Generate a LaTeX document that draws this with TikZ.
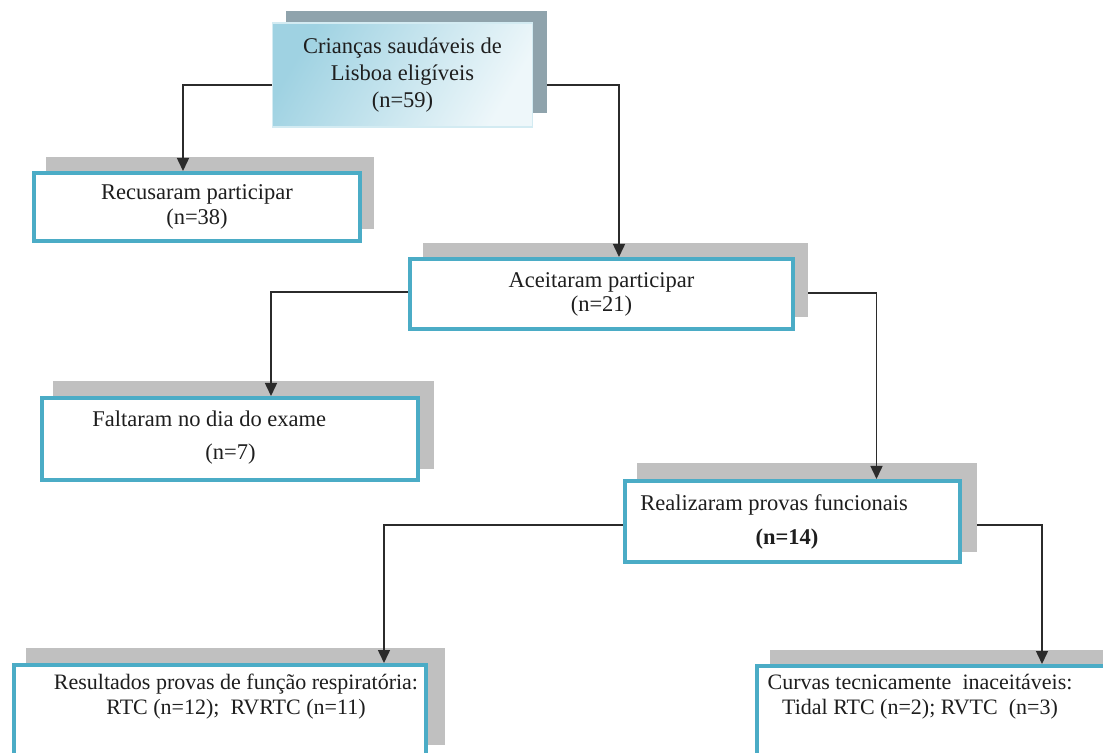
\documentclass[tikz,border=0pt]{standalone}
\usepackage{fontspec}
\setmainfont{Liberation Serif}
\usetikzlibrary{arrows.meta,calc}
\definecolor{boxteal}{HTML}{4BACC6}
\definecolor{shadowgray}{HTML}{C0C0C0}
\definecolor{topshadow}{HTML}{8FA3AC}
\definecolor{topdark}{HTML}{9FD2E2}
\definecolor{toplight}{HTML}{EEF7FA}
\definecolor{topborder}{HTML}{D3EBF2}
\definecolor{linegray}{HTML}{2B2B2B}
\definecolor{textcol}{HTML}{1E1E1E}
\begin{document}
\begin{tikzpicture}[x=0.5pt,y=-0.5pt,
  frontbox/.style={draw=boxteal, line width=2pt, fill=white, inner sep=0pt},
  shadowbox/.style={fill=shadowgray, draw=none, inner sep=0pt},
  conn/.style={draw=linegray, line width=0.75pt, -{Triangle[width=6pt,length=6.5pt]}},
  txt/.style={font=\fontsize{11.25}{13.5}\selectfont, text=textcol, align=center, inner sep=0pt},
  smalltxt/.style={font=\fontsize{11}{12.5}\selectfont, text=textcol, align=center, inner sep=0pt}]
\useasboundingbox (0,0) rectangle (1103,753);
\clip (0,0) rectangle (1103,753);
\fill[white] (0,0) rectangle (1103,753);

% shadows
\node[shadowbox, fill=topshadow, minimum width=130.5pt, minimum height=51pt] (As) at (416.5,62) {};
\node[shadowbox, minimum width=164pt, minimum height=36pt] (Bs) at (210,193) {};
\node[shadowbox, minimum width=192.5pt, minimum height=37pt] (Cs) at (615.5,280) {};
\node[shadowbox, minimum width=190.5pt, minimum height=44pt] (Ds) at (243.5,425) {};
\node[shadowbox, minimum width=170pt, minimum height=44.5pt] (Es) at (807,507.5) {};
\node[shadowbox, minimum width=209.5pt, minimum height=48.5pt] (Fs) at (235.5,696.5) {};
\node[shadowbox, minimum width=180.5pt, minimum height=48pt] (Gs) at (950.5,698) {};

% anchor points of the boxes (front boxes drawn after connectors)
\coordinate (An) at (402.5,75);
\coordinate (Bn) at (197,207);
\coordinate (Cn) at (601.5,294);
\coordinate (Dn) at (230,439);
\coordinate (En) at (792.5,521.5);
\coordinate (Fn) at (220,711);
\coordinate (Gn) at (936,712);

% front boxes (without fill first so that connectors can reference them)
\node[draw=topborder, line width=0.6pt, left color=topdark, right color=toplight, shading angle=60,
      inner sep=0pt, minimum width=130pt, minimum height=52pt,
      font=\fontsize{11.25}{13.5}\selectfont, text=textcol, align=center] (A) at (An)
      {Crianças saudáveis de\\Lisboa eligíveis\\(n=59)};

% connectors
\draw[conn] ($(A.west)+(0,10)$) -| ($(Bn)+(-14,-36)$);
\draw[conn] ($(As.east)+(0,23)$) -| ($(Cn)+(17.5,-37)$);
\draw[conn] ($(Cn)+(-193.5,-2)$) -| ($(Dn)+(41,-43)$);
\draw[conn] ($(Cs.east)+(0,13)$) -| ($(En)+(84,-42.5)$);
\draw[conn] ($(En)+(-169.5,3.5)$) -| ($(Fn)+(164,-48)$);
\draw[conn] ($(Es.east)+(0,17.5)$) -| ($(Gn)+(106,-48)$);

\node[frontbox, minimum width=163pt, minimum height=34pt, txt] (B) at (Bn)
      {Recusaram participar\\[-1pt](n=38)};
\node[frontbox, minimum width=191.5pt, minimum height=35pt, txt] (C) at (Cn)
      {Aceitaram participar\\[-1.5pt](n=21)};
\node[frontbox, minimum width=188pt, minimum height=41pt] (D) at (Dn) {};
\node[frontbox, minimum width=167.5pt, minimum height=40.5pt] (E) at (En) {};
\node[frontbox, minimum width=206pt, minimum height=46pt] (F) at (Fn) {};
\node[frontbox, minimum width=179pt, minimum height=46pt] (G) at (Gn) {};

% texts
\node[txt, anchor=base west] (Dt1) at (92,427) {Faltaram no dia do exame};
\node[txt, anchor=base west] (Dt2) at (205,459) {(n=7)};
\node[txt, anchor=base west] (Et1) at (640,510) {Realizaram provas funcionais};
\node[txt, anchor=base, font=\fontsize{11.25}{13.5}\selectfont\bfseries] (Et2) at (787,545) {(n=14)};
\node[smalltxt] (Ft) at (236,697) {Resultados provas de função respiratória:\\RTC (n=12);\ \ RVRTC (n=11)};
\node[smalltxt] (Gt) at (920,697) {Curvas tecnicamente\ \ inaceitáveis:\\Tidal RTC (n=2); RVTC\ \ (n=3)};
\end{tikzpicture}
\end{document}
